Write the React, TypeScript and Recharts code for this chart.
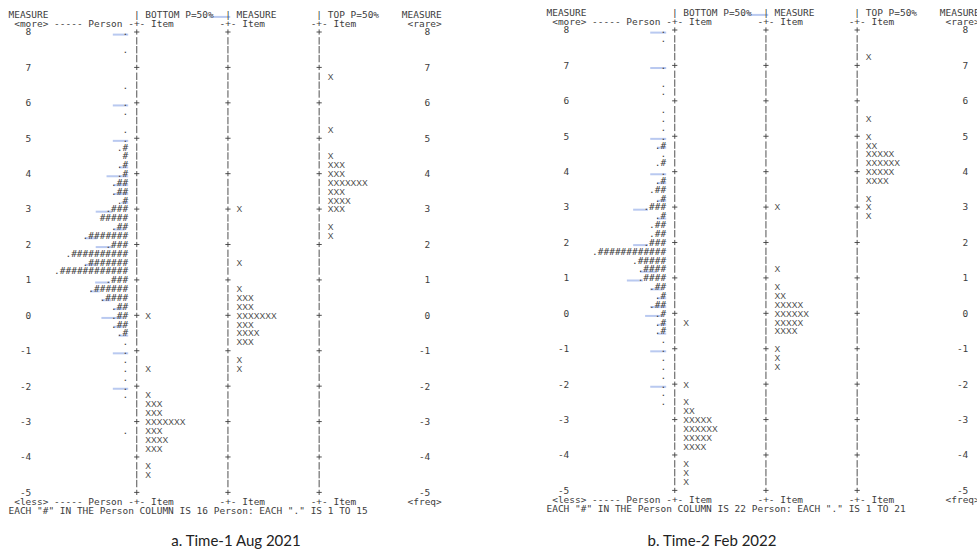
import { ScatterChart, Scatter, XAxis, YAxis } from 'recharts';

type Row = [number, string];
type Mark = [number, number, number];

const measureTicks = [8, 7, 6, 5, 4, 3, 2, 1, 0, -1, -2, -3, -4, -5];

const headerTop =
  'MEASURE'.padEnd(22) + '| BOTTOM P=50%'.padEnd(16) + '| MEASURE'.padEnd(16) + '| TOP P=50%'.padEnd(15) + 'MEASURE';
const headerSub =
  ' <more> ----- Person -+- Item'.padEnd(37) + '-+- Item'.padEnd(16) + '-+- Item'.padEnd(17) + '<rare>';
const footerSub =
  ' <less> ----- Person -+- Item'.padEnd(37) + '-+- Item'.padEnd(16) + '-+- Item'.padEnd(17) + '<freq>';

// Time-1 (Aug 2021)
const time1Persons: Row[] = [
  [8, '.'], [7.5, '.'], [6.5, '.'], [6, '.'], [5.75, '.'], [5.25, '.'], [5, '.'],
  [4.75, '.#'], [4.5, '#'], [4.25, '.#'], [4, '.#'], [3.75, '.##'], [3.5, '.##'], [3.25, '.#'],
  [3, '.###'], [2.75, '#####'], [2.5, '.##'], [2.25, '.#######'], [2, '.###'],
  [1.75, '.##########'], [1.5, '.#######'], [1.25, '.############'], [1, '.###'],
  [0.75, '.######'], [0.5, '.####'], [0.25, '.##'], [0, '.##'], [-0.25, '.##'], [-0.5, '.#'],
  [-0.75, '.'], [-1, '.'], [-1.25, '.'], [-1.5, '.'], [-1.75, '.'], [-2, '.'], [-2.25, '.'], [-3.25, '.'],
];
const time1Bottom: Row[] = [
  [0, 'X'], [-1.5, 'X'], [-2.25, 'X'], [-2.5, 'XXX'], [-2.75, 'XXX'], [-3, 'XXXXXXX'],
  [-3.25, 'XXX'], [-3.5, 'XXXX'], [-3.75, 'XXX'], [-4.25, 'X'], [-4.5, 'X'],
];
const time1Measure: Row[] = [
  [3, 'X'], [1.5, 'X'], [0.75, 'X'], [0.5, 'XXX'], [0.25, 'XXX'], [0, 'XXXXXXX'],
  [-0.25, 'XXX'], [-0.5, 'XXXX'], [-0.75, 'XXX'], [-1.25, 'X'], [-1.5, 'X'],
];
const time1Top: Row[] = [
  [6.75, 'X'], [5.25, 'X'], [4.5, 'X'], [4.25, 'XXX'], [4, 'XXX'], [3.75, 'XXXXXXX'],
  [3.5, 'XXX'], [3.25, 'XXXX'], [3, 'XXX'], [2.5, 'X'], [2.25, 'X'],
];
const time1Note = 'EACH "#" IN THE Person COLUMN IS 16 Person: EACH "." IS 1 TO 15';
// word-processor proofing underlines: [measure row, from column, to column]
const time1Proofing: Mark[] = [
  [8.5, 35.2, 38.9], [8, 18.3, 21], [6, 18.3, 21], [5, 18.3, 21], [4.25, 19.4, 21], [4, 17.2, 21],
  [3.75, 18.4, 21], [3.5, 18.4, 21], [3.25, 19.8, 21], [3, 15.3, 18.2], [2.5, 18.4, 20.4],
  [2.25, 13.4, 15.5], [2, 15.3, 18.2], [1.5, 13.4, 15.2], [1, 15.2, 17.8], [0.75, 14.3, 16],
  [0.5, 16.3, 18], [0.25, 18.4, 20.2], [0, 16.3, 20.2], [-0.25, 18.4, 20.2], [-0.5, 19.3, 21],
  [-1, 18.3, 21], [-2, 18.3, 21],
];

// Time-2 (Feb 2022)
const time2Persons: Row[] = [
  [8, '.'], [7.75, '.'], [7, '.'], [6.5, '.'], [6.25, '.'], [5.75, '.'], [5.5, '.'], [5.25, '.'], [5, '.'],
  [4.75, '.#'], [4.5, '.'], [4.25, '.#'], [4, '.'], [3.75, '.#'], [3.5, '.##'], [3.25, '.#'],
  [3, '.###'], [2.75, '.#'], [2.5, '.##'], [2.25, '.##'], [2, '.###'],
  [1.75, '.############'], [1.5, '.#####'], [1.25, '.####'], [1, '.####'],
  [0.75, '.##'], [0.5, '.#'], [0.25, '.##'], [0, '.#'], [-0.25, '.#'], [-0.5, '.#'],
  [-0.75, '.'], [-1, '.'], [-1.25, '.'], [-1.5, '.'], [-1.75, '.'], [-2, '.'], [-2.25, '.'], [-2.5, '.'],
];
const time2Bottom: Row[] = [
  [-0.25, 'X'], [-2, 'X'], [-2.5, 'X'], [-2.75, 'XX'], [-3, 'XXXXX'], [-3.25, 'XXXXXX'],
  [-3.5, 'XXXXX'], [-3.75, 'XXXX'], [-4.25, 'X'], [-4.5, 'X'], [-4.75, 'X'],
];
const time2Measure: Row[] = [
  [3, 'X'], [1.25, 'X'], [0.75, 'X'], [0.5, 'XX'], [0.25, 'XXXXX'], [0, 'XXXXXX'],
  [-0.25, 'XXXXX'], [-0.5, 'XXXX'], [-1, 'X'], [-1.25, 'X'], [-1.5, 'X'],
];
const time2Top: Row[] = [
  [7.25, 'X'], [5.5, 'X'], [5, 'X'], [4.75, 'XX'], [4.5, 'XXXXX'], [4.25, 'XXXXXX'],
  [4, 'XXXXX'], [3.75, 'XXXX'], [3.25, 'X'], [3, 'X'], [2.75, 'X'],
];
const time2Note = 'EACH "#" IN THE Person COLUMN IS 22 Person: EACH "." IS 1 TO 21';
const time2Proofing: Mark[] = [
  [8.5, 35.2, 38.9], [8, 18.2, 21], [7, 18.2, 21], [5, 18.2, 21], [4.75, 19.4, 21], [4, 18.2, 21],
  [3.75, 19.4, 21], [3.25, 19.4, 21], [3, 15.2, 17.8], [2.75, 19.4, 21], [2, 15.2, 17.8],
  [1.25, 16.4, 19.4], [1, 14.1, 16.9], [0.75, 18.2, 20.4], [0.5, 19.4, 21], [0.25, 18.2, 21],
  [0, 17.3, 20.4], [-0.25, 19.4, 21], [-0.5, 19.4, 21], [-1, 18.2, 21], [-2, 18.2, 21],
];

const INK = '#3d3d3d';
const MONO = '"DejaVu Sans Mono", monospace';
const COL_W = 5.7;
const COLS = 80;

// quarter-logit rows of the map, 8 down to -5
const mapRows = Array.from({ length: 53 }, (_, i) => 8 - i * 0.25);
const axisCols = [22.5, 38.5, 54.5];

const TextMark = (props: any) => {
  const { cx, cy, payload } = props;
  const isItem = payload.kind === 'item';
  return (
    <text
      x={cx}
      y={cy + 3.4}
      textAnchor={payload.anchor}
      fontFamily={isItem ? '"Liberation Sans", Arial, sans-serif' : MONO}
      fontSize={isItem ? 8.6 : 9.47}
      fill={isItem ? '#4a4a4a' : INK}
      style={{ whiteSpace: 'pre' }}
    >
      {payload.text}
    </text>
  );
};

const AxisMark = (props: any) => {
  const { cx, cy, payload } = props;
  if (payload.tick) {
    return (
      <g stroke={INK} strokeWidth={0.9}>
        <line x1={cx - 2.6} x2={cx + 2.6} y1={cy} y2={cy} />
        <line x1={cx} x2={cx} y1={cy - 2.6} y2={cy + 2.6} />
      </g>
    );
  }
  return <line x1={cx} x2={cx} y1={cy - 3.7} y2={cy + 3.7} stroke={INK} strokeWidth={0.9} />;
};

const ProofMark = (props: any) => {
  const { cx, cy, payload } = props;
  return <rect x={cx} y={cy + 1.6} width={payload.span * COL_W} height={2} fill="#b9c9f0" />;
};

const toPts = (rows: Row[], col: number, anchor: string, kind: string) =>
  rows.map(([m, text]) => ({ col, m, text, anchor, kind }));

interface WrightMapProps {
  persons: Row[];
  bottom: Row[];
  middle: Row[];
  top: Row[];
  note: string;
  proofing: Mark[];
}

const WrightMap = ({ persons, bottom, middle, top, note, proofing }: WrightMapProps) => {
  const textPts = [
    ...toPts(persons, 21, 'end', 'person'),
    ...toPts(bottom, 24, 'start', 'item'),
    ...toPts(middle, 40, 'start', 'item'),
    ...toPts(top, 56, 'start', 'item'),
    ...measureTicks.map((m) => ({ col: 4, m, text: String(m), anchor: 'end', kind: 'scale' })),
    ...measureTicks.map((m) => ({ col: 74, m, text: String(m), anchor: 'end', kind: 'scale' })),
    { col: 0, m: 8.5, text: headerTop, anchor: 'start', kind: 'head' },
    { col: 0, m: 8.25, text: headerSub, anchor: 'start', kind: 'head' },
    { col: 0, m: -5.25, text: footerSub, anchor: 'start', kind: 'head' },
    { col: 0, m: -5.5, text: note, anchor: 'start', kind: 'head' },
  ];
  const axisPts = axisCols.flatMap((col) =>
    mapRows.map((m) => ({ col, m, tick: Number.isInteger(m) })),
  );
  const proofPts = proofing.map(([m, from, to]) => ({ col: from, m, span: to - from }));

  return (
    <ScatterChart
      width={8.5 + COLS * COL_W + 15.5}
      height={520}
      margin={{ top: 14.3, right: 15.5, bottom: 9.9, left: 8.5 }}
    >
      <XAxis type="number" dataKey="col" domain={[0, COLS]} hide />
      <YAxis type="number" dataKey="m" domain={[-5.5, 8.5]} hide />
      <Scatter data={proofPts} shape={<ProofMark />} isAnimationActive={false} />
      <Scatter data={axisPts} shape={<AxisMark />} isAnimationActive={false} />
      <Scatter data={textPts} shape={<TextMark />} isAnimationActive={false} />
    </ScatterChart>
  );
};

const captionStyle = {
  position: 'absolute' as const,
  top: 531,
  width: 300,
  textAlign: 'center' as const,
  fontFamily: 'Lato, "Open Sans", sans-serif',
  fontSize: 15,
  color: '#222',
};

export default function App() {
  return (
    <div
      style={{
        position: 'absolute',
        left: 0,
        top: 0,
        width: 977,
        height: 558,
        overflow: 'hidden',
        background: '#fff',
      }}
    >
      <div style={{ position: 'absolute', left: 0, top: 0 }}>
        <WrightMap
          persons={time1Persons}
          bottom={time1Bottom}
          middle={time1Measure}
          top={time1Top}
          note={time1Note}
          proofing={time1Proofing}
        />
      </div>
      <div style={{ position: 'absolute', left: 538, top: -2 }}>
        <WrightMap
          persons={time2Persons}
          bottom={time2Bottom}
          middle={time2Measure}
          top={time2Top}
          note={time2Note}
          proofing={time2Proofing}
        />
      </div>
      <div style={{ ...captionStyle, left: 86 }}>a. Time-1 Aug 2021</div>
      <div style={{ ...captionStyle, left: 562 }}>b. Time-2 Feb 2022</div>
    </div>
  );
}
